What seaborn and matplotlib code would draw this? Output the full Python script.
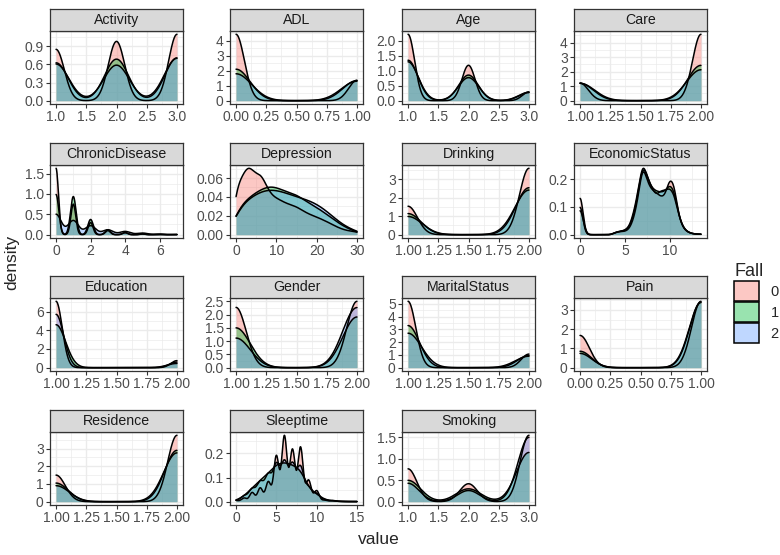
import numpy as np
import matplotlib
matplotlib.use("Agg")
import matplotlib.pyplot as plt
import seaborn as sns
from matplotlib.colors import to_rgba
from matplotlib.patches import Patch

# Facets in the order they are shown, and the Fall groups
variables = ["Activity", "ADL", "Age", "Care", "ChronicDisease", "Depression",
             "Drinking", "EconomicStatus", "Education", "Gender", "MaritalStatus",
             "Pain", "Residence", "Sleeptime", "Smoking"]
fall_levels = ["0", "1", "2"]
fall_colors = ["#F8766D", "#00BA38", "#619CFF"]

# For every variable: observed values, share of each Fall group at those
# values (rows = Fall 0, 1, 2) and the kernel bandwidth of each group
activity_x = [1, 2, 3]
activity_w = [[0.29, 0.335, 0.375], [0.31, 0.34, 0.35], [0.32, 0.31, 0.37]]
activity_bw = [0.136, 0.197, 0.21]

adl_x = [0, 1]
adl_w = [[0.765, 0.235], [0.61, 0.39], [0.58, 0.42]]
adl_bw = [0.069, 0.116, 0.129]

age_x = [1, 2, 3]
age_w = [[0.6, 0.32, 0.08], [0.545, 0.345, 0.11], [0.553, 0.328, 0.119]]
age_bw = [0.108, 0.161, 0.17]

care_x = [1, 2]
care_w = [[0.21, 0.79], [0.33, 0.67], [0.36, 0.64]]
care_bw = [0.069, 0.11, 0.12]

chronic_x = [0, 1, 2, 3, 4, 5, 6, 7]
chronic_w = [[0.572, 0.263, 0.105, 0.035, 0.0176, 0.0053, 0.0021, 0.001],
             [0.401, 0.381, 0.152, 0.048, 0.02, 0.008, 0.0032, 0.0012],
             [0.375, 0.26, 0.165, 0.09, 0.06, 0.03, 0.011, 0.004]]
chronic_bw = [0.14, 0.16, 0.3]

depression_x = list(range(0, 31))
depression_w = [
    [0.07, 0.07, 0.08, 0.095, 0.085, 0.075, 0.085, 0.07, 0.058, 0.05, 0.048,
     0.045, 0.042, 0.04, 0.038, 0.037, 0.033, 0.03, 0.027, 0.025, 0.023,
     0.021, 0.018, 0.016, 0.013, 0.01, 0.008, 0.006, 0.005, 0.004, 0.005],
    [0.03, 0.032, 0.035, 0.04, 0.043, 0.046, 0.049, 0.051, 0.053, 0.054, 0.052,
     0.049, 0.047, 0.046, 0.045, 0.044, 0.042, 0.036, 0.034, 0.032, 0.03,
     0.027, 0.024, 0.02, 0.017, 0.014, 0.011, 0.008, 0.006, 0.004, 0.004],
    [0.03, 0.032, 0.035, 0.039, 0.042, 0.045, 0.047, 0.049, 0.05, 0.05, 0.049,
     0.048, 0.046, 0.045, 0.043, 0.042, 0.04, 0.039, 0.038, 0.036, 0.034,
     0.031, 0.028, 0.024, 0.02, 0.016, 0.012, 0.009, 0.007, 0.005, 0.005]]
depression_bw = [1.0, 1.7, 1.9]

drinking_x = [1, 2]
drinking_w = [[0.30, 0.70], [0.31, 0.69], [0.29, 0.71]]
drinking_bw = [0.0775, 0.108, 0.117]

economic_x = [0, 4, 4.5, 5, 5.5, 6, 6.5, 7, 7.5, 8, 8.5, 9, 9.5, 10, 10.5,
              11, 11.5, 12, 12.5, 13, 13.5]
economic_w = [
    [0.114, 0.005, 0.006, 0.006, 0.01, 0.03, 0.07, 0.14, 0.1, 0.085, 0.08,
     0.072, 0.072, 0.11, 0.1, 0.035, 0.012, 0.005, 0.002, 0.001, 0.001],
    [0.079, 0.005, 0.006, 0.007, 0.012, 0.035, 0.075, 0.14, 0.105, 0.085, 0.08,
     0.078, 0.078, 0.095, 0.085, 0.035, 0.012, 0.005, 0.002, 0.001, 0.001],
    [0.079, 0.005, 0.006, 0.008, 0.014, 0.04, 0.08, 0.135, 0.105, 0.085, 0.07,
     0.08, 0.08, 0.085, 0.075, 0.035, 0.013, 0.005, 0.002, 0.001, 0.001]]
economic_bw = [0.33, 0.36, 0.32]

education_x = [1, 2]
education_w = [[0.904, 0.096], [0.91, 0.09], [0.905, 0.095]]
education_bw = [0.0508, 0.079, 0.0633]

gender_x = [1, 2]
gender_w = [[0.476, 0.524], [0.44, 0.56], [0.33, 0.67]]
gender_bw = [0.0836, 0.117, 0.118]

marital_x = [1, 2]
marital_w = [[0.83, 0.17], [0.776, 0.224], [0.75, 0.25]]
marital_bw = [0.0638, 0.094, 0.111]

pain_x = [0, 1]
pain_w = [[0.327, 0.673], [0.2, 0.8], [0.18, 0.82]]
pain_bw = [0.0778, 0.0934, 0.0966]

residence_x = [1, 2]
residence_w = [[0.286, 0.714], [0.266, 0.734], [0.247, 0.753]]
residence_bw = [0.076, 0.101, 0.109]

sleep_x = list(range(0, 16))
sleep_w = [
    [0.004, 0.012, 0.03, 0.045, 0.065, 0.15, 0.215, 0.17, 0.178, 0.07, 0.036,
     0.005, 0.004, 0.001, 0.0005, 0.0005],
    [0.005, 0.025, 0.062, 0.097, 0.128, 0.17, 0.18, 0.165, 0.15, 0.06, 0.035,
     0.008, 0.004, 0.001, 0.0005, 0.0005],
    [0.005, 0.025, 0.055, 0.085, 0.115, 0.16, 0.17, 0.16, 0.15, 0.06, 0.035,
     0.008, 0.004, 0.001, 0.0005, 0.0005]]
sleep_bw = [0.32, 0.65, 0.42]

smoking_x = [1, 2, 3]
smoking_w = [[0.28, 0.153, 0.566], [0.256, 0.154, 0.59], [0.196, 0.119, 0.685]]
smoking_bw = [0.146, 0.205, 0.182]

# Tick labels of each facet (scales are free)
ticks_1to3 = ["1.0", "1.5", "2.0", "2.5", "3.0"]
ticks_1to2 = ["1.00", "1.25", "1.50", "1.75", "2.00"]
ticks_0to1 = ["0.00", "0.25", "0.50", "0.75", "1.00"]

panels = {
    "Activity": (activity_x, activity_w, activity_bw, ticks_1to3, ["0.0", "0.3", "0.6", "0.9"]),
    "ADL": (adl_x, adl_w, adl_bw, ticks_0to1, ["0", "1", "2", "3", "4"]),
    "Age": (age_x, age_w, age_bw, ticks_1to3, ["0.0", "0.5", "1.0", "1.5", "2.0"]),
    "Care": (care_x, care_w, care_bw, ticks_1to2, ["0", "1", "2", "3", "4"]),
    "ChronicDisease": (chronic_x, chronic_w, chronic_bw, ["0", "2", "4", "6"], ["0.0", "0.5", "1.0", "1.5"]),
    "Depression": (depression_x, depression_w, depression_bw, ["0", "10", "20", "30"], ["0.00", "0.02", "0.04", "0.06"]),
    "Drinking": (drinking_x, drinking_w, drinking_bw, ticks_1to2, ["0", "1", "2", "3"]),
    "EconomicStatus": (economic_x, economic_w, economic_bw, ["0", "5", "10"], ["0.0", "0.1", "0.2"]),
    "Education": (education_x, education_w, education_bw, ticks_1to2, ["0", "2", "4", "6"]),
    "Gender": (gender_x, gender_w, gender_bw, ticks_1to2, ["0.0", "0.5", "1.0", "1.5", "2.0", "2.5"]),
    "MaritalStatus": (marital_x, marital_w, marital_bw, ticks_1to2, ["0", "1", "2", "3", "4", "5"]),
    "Pain": (pain_x, pain_w, pain_bw, ticks_0to1, ["0", "1", "2", "3"]),
    "Residence": (residence_x, residence_w, residence_bw, ticks_1to2, ["0", "1", "2", "3"]),
    "Sleeptime": (sleep_x, sleep_w, sleep_bw, ["0", "5", "10", "15"], ["0.0", "0.1", "0.2"]),
    "Smoking": (smoking_x, smoking_w, smoking_bw, ticks_1to3, ["0.0", "0.5", "1.0", "1.5"]),
}

sns.set_theme(style="white")
plt.rcParams["font.family"] = ["Liberation Sans", "DejaVu Sans"]

W, H = 780, 555
fig = plt.figure(figsize=(W / 100, H / 100), dpi=100)

# panel geometry in pixels (ggplot facet_wrap, ncol = 4)
col_left = [50, 230, 402, 574]
panel_w = 133
strip_top = [9, 143, 276, 410]
strip_h = 22
panel_h = 73

GRID = "#EBEBEB"
DARK = "#333333"


def minor_between(major, lo, hi):
    step = major[1] - major[0]
    cand = np.concatenate([[major[0] - step / 2], (major[:-1] + major[1:]) / 2,
                           [major[-1] + step / 2]])
    return cand[(cand >= lo) & (cand <= hi)]


for i, var in enumerate(variables):
    r, c = divmod(i, 4)
    left = col_left[c]
    top = strip_top[r] + strip_h
    ax = fig.add_axes([left / W, 1 - (top + panel_h) / H, panel_w / W, panel_h / H])
    sax = fig.add_axes([left / W, 1 - top / H, panel_w / W, strip_h / H])

    xs, ws, bws, xlabs, ylabs = panels[var]
    x = np.asarray(xs, dtype=float)
    lo, hi = x.min(), x.max()
    for g in range(3):
        w = np.asarray(ws[g], dtype=float)
        sd = np.sqrt(np.cov(x, aweights=w))
        kw = dict(x=x, weights=w, bw_method=bws[g] / sd, cut=10, clip=(lo, hi),
                  gridsize=512, ax=ax)
        sns.kdeplot(fill=True, color=fall_colors[g], alpha=0.4, linewidth=0, **kw)
        sns.kdeplot(color="black", linewidth=1.1, **kw)

    ymax = max(np.nanmax(l.get_ydata()) for l in ax.lines)
    xr = hi - lo
    ax.set_xlim(lo - 0.05 * xr, hi + 0.05 * xr)
    ax.set_ylim(-0.05 * ymax, 1.05 * ymax)

    xt = np.array([float(t) for t in xlabs])
    yt = np.array([float(t) for t in ylabs])
    keep = yt <= 1.05 * ymax
    ax.set_xticks(xt, xlabs)
    ax.set_yticks(yt[keep], [l for l, k in zip(ylabs, keep) if k])
    ax.set_xticks(minor_between(xt, *ax.get_xlim()), minor=True)
    ax.set_yticks(minor_between(yt, *ax.get_ylim()), minor=True)
    ax.grid(True, which="major", color=GRID, linewidth=1.0)
    ax.grid(True, which="minor", color=GRID, linewidth=0.5)
    ax.set_axisbelow(True)
    ax.tick_params(which="major", length=3, width=0.8, color=DARK, pad=1.5,
                   labelsize=10, labelcolor="#4D4D4D", left=True, bottom=True)
    ax.tick_params(which="minor", length=0)
    ax.set_xlabel("")
    ax.set_ylabel("")
    for sp in ax.spines.values():
        sp.set_color(DARK)
        sp.set_linewidth(0.9)

    sax.set_facecolor("#D9D9D9")
    sax.set_xticks([])
    sax.set_yticks([])
    for sp in sax.spines.values():
        sp.set_color(DARK)
        sp.set_linewidth(0.9)
    sax.text(0.5, 0.5, var, ha="center", va="center", fontsize=10.2,
             color="#1A1A1A", transform=sax.transAxes)

fig.text(379 / W, 1 - 540 / H, "value", ha="center", va="center", fontsize=12.5)
fig.text(12 / W, 1 - 262 / H, "density", ha="center", va="center",
         rotation=90, fontsize=12.5)

handles = [Patch(facecolor=to_rgba(col, 0.4), edgecolor="black", linewidth=1.1)
           for col in fall_colors]
leg = fig.legend(handles, fall_levels, title="Fall", loc="center left",
                 bbox_to_anchor=(734 / W, 1 - 303 / H), frameon=False,
                 fontsize=10.5, title_fontsize=13, handlelength=1.7,
                 handleheight=1.7, labelspacing=0.08, handletextpad=0.8,
                 borderpad=0, borderaxespad=0)
leg._legend_box.align = "left"

fig.savefig("out.png", dpi=100)
